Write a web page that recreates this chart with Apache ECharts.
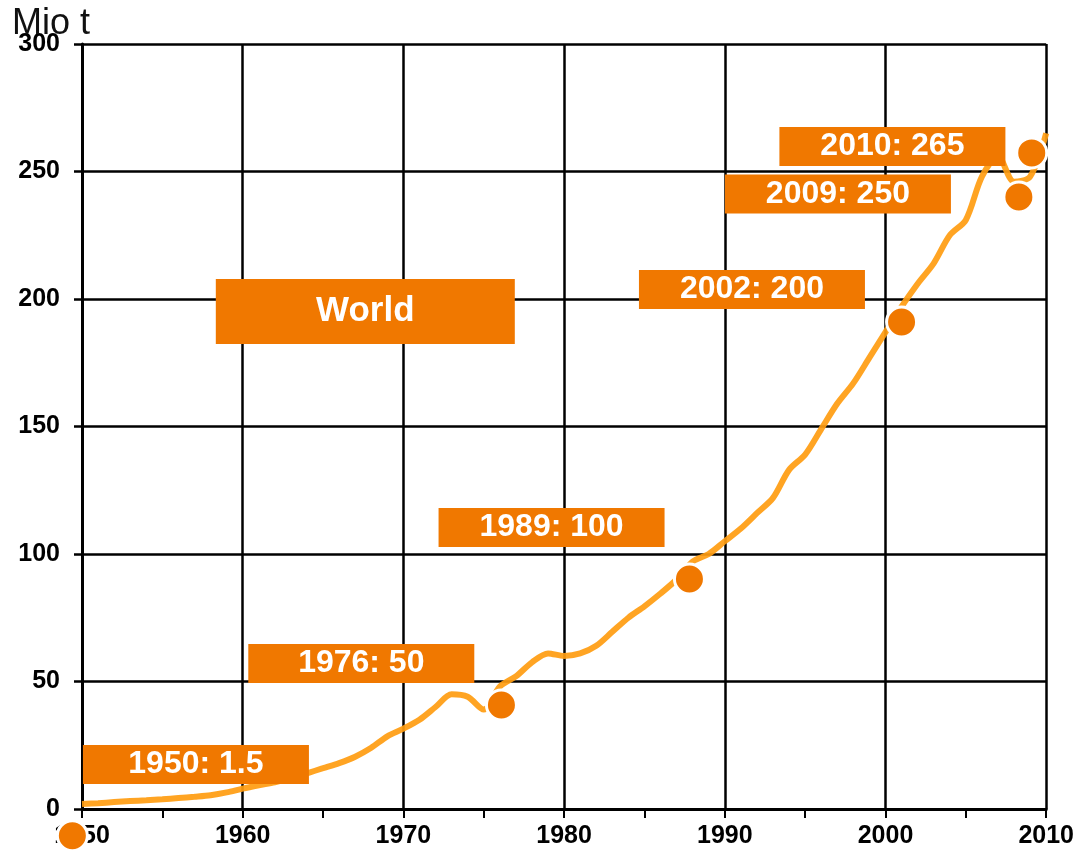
<!DOCTYPE html>
<html>
<head>
<meta charset="utf-8">
<script src="https://cdn.jsdelivr.net/npm/echarts@6/dist/echarts.min.js"></script>
<style>
html,body{margin:0;padding:0;background:#fff;}
#chart{width:1077px;height:853px;}
</style>
</head>
<body>
<div id="chart"></div>
<script>
// World production, million tonnes
const years = [1950,1951,1952,1953,1954,1955,1956,1957,1958,1959,1960,1961,1962,1963,1964,1965,1966,1967,1968,1969,1970,1971,1972,1973,1974,1975,1976,1977,1978,1979,1980,1981,1982,1983,1984,1985,1986,1987,1988,1989,1990,1991,1992,1993,1994,1995,1996,1997,1998,1999,2000,2001,2002,2003,2004,2005,2006,2007,2008,2009,2010];
const production = [2,2.3,2.7,3.1,3.4,3.8,4.3,4.8,5.4,6.5,8,9.3,10.5,12,14,16,18,20.5,24,28.5,31.5,35,40,45,44,39,48,52,57.5,61,60,61,64,69.5,75,79.5,84.5,90,97,100,105,110,116,122,133,139,149,159,167,177,187,197,206,214,225,231,248,256,246,248,265];

// Highlight dots (as placed in the picture)
const dotYears = [1949.4,1976.1,1987.8,2001.0,2008.3,2009.1];
const dotValues = [-10.5,40.8,90.2,191.0,240.0,257.3];

// Annotation boxes (anchor in data units)
const annoText = ['1950: 1.5','1976: 50','1989: 100','2002: 200','2009: 250','2010: 265'];
const annoYears = [1957.09,1967.38,1979.22,1991.69,1997.04,2000.43];
const annoValues = [17.45,57.06,110.4,203.7,241.2,259.8];
const titleText = 'World';
const titleYear = 1967.63;
const titleValue = 195.1;

// Axis ticks
const yTicks = [0,50,100,150,200,250,300];
const xTicks = [1950,1960,1970,1980,1990,2000,2010];
const unitLabel = 'Mio t';

const orange = '#F07800';
const lineOrange = '#FF9C10';
const font = 'Liberation Sans, Arial, sans-serif';

const chart = echarts.init(document.getElementById('chart'));
const annoData = annoText.map((t, i) => ({
  name: t, value: [annoYears[i], annoValues[i]], symbolSize: [226, 39],
  label: {fontSize: 32}
}));
annoData.push({name: titleText, value: [titleYear, titleValue], symbolSize: [299, 65], label: {fontSize: 35}});

chart.setOption({
  animation: false,
  backgroundColor: '#fff',
  title: {
    text: unitLabel, left: 7, top: 1,
    textStyle: {fontFamily: font, fontSize: 36, fontWeight: 'normal', color: '#111'}
  },
  grid: {left: 82, right: 30, top: 44, bottom: 44, containLabel: false},
  xAxis: {
    type: 'value', min: xTicks[0], max: xTicks[xTicks.length - 1], interval: 10,
    axisLine: {show: true, lineStyle: {color: '#000', width: 3}},
    axisTick: {show: true, length: 9, lineStyle: {color: '#000', width: 2}},
    minorTick: {show: true, splitNumber: 2, length: 9, lineStyle: {color: '#000', width: 2}},
    splitLine: {show: true, lineStyle: {color: '#000', width: 2.5}},
    axisLabel: {color: '#000', fontFamily: font, fontWeight: 'bold', fontSize: 25, margin: 15,
      formatter: v => String(v)}
  },
  yAxis: {
    type: 'value', min: yTicks[0], max: yTicks[yTicks.length - 1], interval: 50,
    axisLine: {show: true, lineStyle: {color: '#000', width: 3}},
    axisTick: {show: true, length: 8, lineStyle: {color: '#000', width: 2.5}},
    splitLine: {show: true, lineStyle: {color: '#000', width: 2.5}},
    axisLabel: {color: '#000', fontFamily: font, fontWeight: 'bold', fontSize: 25, margin: 22}
  },
  series: [
    {
      type: 'line', z: 2, smooth: 0.3, symbol: 'none', clip: false,
      data: years.map((y, i) => [y, production[i]]),
      lineStyle: {color: lineOrange, width: 6, opacity: 0.92}
    },
    {
      type: 'scatter', z: 3, symbol: 'rect', clip: false,
      data: annoData,
      itemStyle: {color: orange, opacity: 1},
      label: {show: true, position: 'inside', formatter: p => p.name, color: '#fff',
        fontFamily: font, fontWeight: 'bold', padding: [3, 0, 0, 0]},
      emphasis: {disabled: true}
    },
    {
      type: 'scatter', z: 4, symbol: 'circle', symbolSize: 30, clip: false,
      data: dotYears.map((y, i) => [y, dotValues[i]]),
      itemStyle: {color: orange, borderColor: '#fff', borderWidth: 3, opacity: 1},
      emphasis: {disabled: true}
    }
  ]
});
</script>
</body>
</html>
